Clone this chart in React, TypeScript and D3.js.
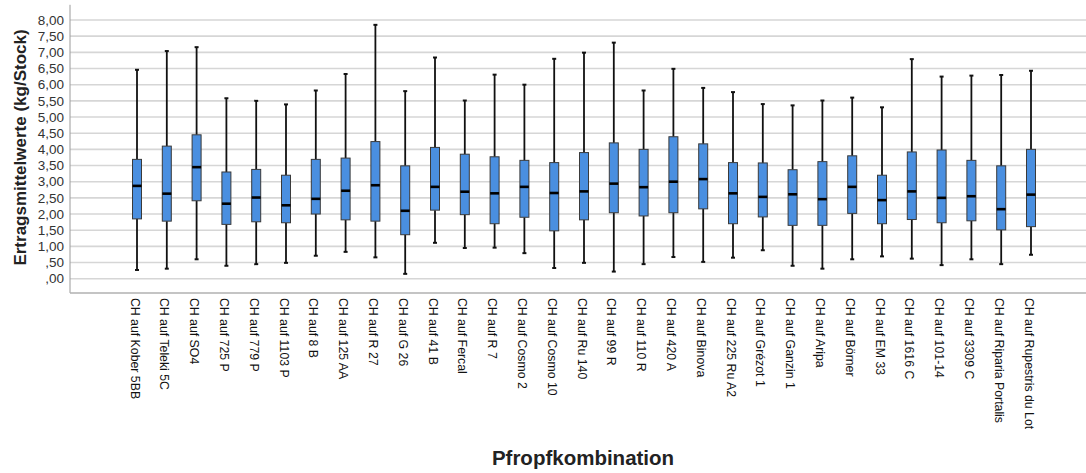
import React from "react";
import * as d3 from "d3";

const width = 1086;
const height = 473;

// Pfropfkombinationen
const categories = [
  "CH auf Kober 5BB", "CH auf Teleki 5C", "CH auf SO4", "CH auf 725 P", "CH auf 779 P",
  "CH auf 1103 P", "CH auf 8 B", "CH auf 125 AA", "CH auf R 27", "CH auf G 26",
  "CH auf 41 B", "CH auf Fercal", "CH auf R 7", "CH auf Cosmo 2", "CH auf Cosmo 10",
  "CH auf Ru 140", "CH auf 99 R", "CH auf 110 R", "CH auf 420 A", "CH auf Binova",
  "CH auf 225 Ru A2", "CH auf Grézot 1", "CH auf Ganzin 1", "CH auf Aripa", "CH auf Börner",
  "CH auf EM 33", "CH auf 1616 C", "CH auf 101-14", "CH auf 3309 C", "CH auf Riparia Portalis",
  "CH auf Rupestris du Lot",
];

// five-number summaries
const whiskerLow = [
  0.27, 0.31, 0.6, 0.4, 0.45, 0.49, 0.71, 0.83, 0.66, 0.15,
  1.11, 0.95, 0.96, 0.79, 0.33, 0.49, 0.22, 0.45, 0.67, 0.52,
  0.65, 0.88, 0.4, 0.31, 0.6, 0.69, 0.62, 0.42, 0.6, 0.45, 0.74,
];
const q1 = [
  1.85, 1.78, 2.41, 1.68, 1.76, 1.73, 2.0, 1.82, 1.78, 1.36,
  2.12, 1.98, 1.7, 1.9, 1.48, 1.82, 2.04, 1.94, 2.04, 2.16,
  1.7, 1.91, 1.65, 1.65, 2.02, 1.7, 1.83, 1.73, 1.79, 1.51, 1.61,
];
const median = [
  2.87, 2.63, 3.45, 2.32, 2.51, 2.27, 2.47, 2.72, 2.89, 2.1,
  2.84, 2.69, 2.64, 2.84, 2.65, 2.7, 2.94, 2.83, 3.0, 3.08,
  2.64, 2.53, 2.61, 2.46, 2.84, 2.43, 2.7, 2.5, 2.55, 2.15, 2.6,
];
const q3 = [
  3.69, 4.1, 4.45, 3.3, 3.38, 3.2, 3.69, 3.73, 4.24, 3.49,
  4.06, 3.85, 3.77, 3.66, 3.59, 3.9, 4.2, 4.0, 4.39, 4.17,
  3.59, 3.58, 3.37, 3.62, 3.8, 3.2, 3.92, 3.98, 3.66, 3.49, 4.0,
];
const whiskerHigh = [
  6.46, 7.04, 7.16, 5.58, 5.5, 5.39, 5.82, 6.33, 7.85, 5.8,
  6.84, 5.51, 6.31, 6.0, 6.8, 6.99, 7.3, 5.82, 6.49, 5.9,
  5.77, 5.4, 5.36, 5.51, 5.6, 5.3, 6.79, 6.25, 6.28, 6.3, 6.43,
];

const yTicks = [0, 0.5, 1, 1.5, 2, 2.5, 3, 3.5, 4, 4.5, 5, 5.5, 6, 6.5, 7, 7.5, 8];

// SPSS style: comma decimals, no leading zero
const fmt = (v: number) => {
  const s = v.toFixed(2).replace(".", ",");
  return s.startsWith("0,") ? s.slice(1) : s;
};

export default function App() {
  const left = 70;
  const y = d3.scaleLinear().domain([0, 8]).range([278.7, 20]);
  const x = d3
    .scalePoint<string>()
    .domain(categories)
    .range([137, 1031]);

  const boxW = 9;
  const capW = 4;
  const axisBottom = y(-0.44);
  const axisTop = y(8.47);

  return (
    <svg
      width={width}
      height={height}
      style={{ position: "absolute", left: 0, top: 0, fontFamily: "'Liberation Sans', Arial, sans-serif" }}
    >
      <rect width={width} height={height} fill="white" />
      {/* gridlines */}
      {yTicks.map((t) => (
        <line key={t} x1={left} x2={width} y1={y(t)} y2={y(t)} stroke="#d6d6d6" strokeWidth={1.6} />
      ))}
      {/* axes */}
      <line x1={left} x2={left} y1={axisTop} y2={axisBottom} stroke="#9a9a9a" strokeWidth={1} />
      <line x1={left} x2={width} y1={axisBottom} y2={axisBottom} stroke="#b0b0b0" strokeWidth={1.5} />
      {yTicks.map((t) => (
        <text key={t} x={64} y={y(t)} dy="0.35em" textAnchor="end" fontSize={13.5} fill="#333">
          {fmt(t)}
        </text>
      ))}

      {/* boxes */}
      {categories.map((c, i) => {
        const cx = x(c) as number;
        return (
          <g key={c}>
            <line x1={cx} x2={cx} y1={y(whiskerHigh[i])} y2={y(q3[i])} stroke="#111" strokeWidth={1.8} />
            <line x1={cx} x2={cx} y1={y(q1[i])} y2={y(whiskerLow[i])} stroke="#111" strokeWidth={1.8} />
            <line x1={cx - capW / 2} x2={cx + capW / 2} y1={y(whiskerHigh[i])} y2={y(whiskerHigh[i])} stroke="#111" strokeWidth={2} />
            <line x1={cx - capW / 2} x2={cx + capW / 2} y1={y(whiskerLow[i])} y2={y(whiskerLow[i])} stroke="#111" strokeWidth={2} />
            <rect
              x={cx - boxW / 2}
              y={y(q3[i])}
              width={boxW}
              height={y(q1[i]) - y(q3[i])}
              fill="#4a8fe0"
              stroke="#3a3a3a"
              strokeWidth={1}
            />
            <line x1={cx - boxW / 2} x2={cx + boxW / 2} y1={y(median[i])} y2={y(median[i])} stroke="#000" strokeWidth={2.6} />
            <text
              transform={`translate(${cx - 2},${axisBottom + 5}) rotate(90)`}
              dy="0.35em"
              fontSize={12.3}
              fill="#111"
            >
              {c}
            </text>
          </g>
        );
      })}

      {/* titles */}
      <text
        transform={`translate(20,147.5) rotate(-90)`}
        textAnchor="middle"
        dy="0.35em"
        fontSize={17}
        fontWeight="bold"
        fill="#222"
      >
        Ertragsmittelwerte (kg/Stock)
      </text>
      <text x={583} y={465} textAnchor="middle" fontSize={20.5} fontWeight="bold" fill="#222">
        Pfropfkombination
      </text>
    </svg>
  );
}
